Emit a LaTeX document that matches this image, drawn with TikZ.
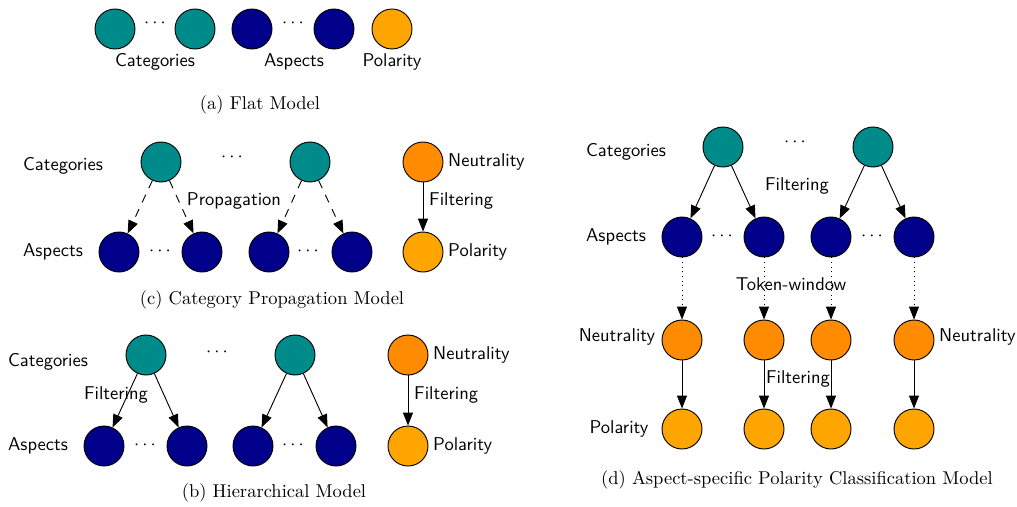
\documentclass[tikz,border=0pt]{standalone}
\usepackage{tikz}
\usetikzlibrary{shapes, positioning, arrows.meta, calc}

\definecolor{catcol}{RGB}{0,139,139}
\definecolor{aspcol}{RGB}{0,0,139}
\definecolor{neucol}{RGB}{255,140,0}
\definecolor{polcol}{RGB}{255,165,0}

\begin{document}
\begin{tikzpicture}[x=0.54pt, y=-0.54pt,
  >={Triangle[length=7pt,width=5.4pt]},
  unit/.style={draw, circle, line width=0.5pt, minimum size=21.6pt, inner sep=0pt},
  cat/.style={unit, fill=catcol},
  asp/.style={unit, fill=aspcol},
  neu/.style={unit, fill=neucol},
  pol/.style={unit, fill=polcol},
  lbl/.style={font=\sffamily, inner sep=1pt},
  subcap/.style={font=\rmfamily},
  edge/.style={->, line width=0.5pt},
  prop/.style={edge, dash pattern=on 4.5pt off 4pt},
  win/.style={edge, dotted}]
\useasboundingbox (0,0) rectangle (1017,506);

% (a) flat
\node[cat] (a1) at (115,29) {};
\node[cat] (a2) at (195,29) {};
\node[asp] (a3) at (252,29) {};
\node[asp] (a4) at (334,29) {};
\node[pol] (a5) at (392,29) {};
\node (ad1) at (155,23) {$\cdots$};
\node (ad2) at (293,23) {$\cdots$};
\node[lbl] (aL1) at (155,62) {Categories};
\node[lbl] (aL2) at (294,62) {Aspects};
\node[lbl] (aL3) at (392,62) {Polarity};
\node[subcap] (aC) at (260,105) {(a) Flat Model};

% (c) category propagation
\node[cat] (c1) at (161,162) {};
\node[cat] (c2) at (310,162) {};
\node[neu] (cn) at (423,162) {};
\node[asp] (ca1) at (119,252) {};
\node[asp] (ca2) at (202,252) {};
\node[asp] (ca3) at (269,252) {};
\node[asp] (ca4) at (352,252) {};
\node[pol] (cp) at (423,252) {};
\node (cd1) at (232,157) {$\cdots$};
\node (cd2) at (160,251) {$\cdots$};
\node (cd3) at (308,251) {$\cdots$};
\node[lbl] (cL1) at (63,166) {Categories};
\node[lbl] (cL2) at (53,252) {Aspects};
\node[lbl, anchor=west] (cL3) at (446,162) {Neutrality};
\node[lbl, anchor=west] (cL4) at (446,252) {Polarity};
\node[lbl] (cE1) at (234,201) {Propagation};
\node[lbl, anchor=west] (cE2) at (427,201) {Filtering};
\draw[prop] (c1) -- (ca1);
\draw[prop] (c1) -- (ca2);
\draw[prop] (c2) -- (ca3);
\draw[prop] (c2) -- (ca4);
\draw[edge] (cn) -- (cp);
\node[subcap] (cC) at (272,300) {(c) Category Propagation Model};

% (b) hierarchical
\node[cat] (b1) at (146,355) {};
\node[cat] (b2) at (295,355) {};
\node[neu] (bn) at (408,355) {};
\node[asp] (ba1) at (104,446) {};
\node[asp] (ba2) at (187,446) {};
\node[asp] (ba3) at (253,446) {};
\node[asp] (ba4) at (336,446) {};
\node[pol] (bp) at (408,446) {};
\node (bd1) at (217,352) {$\cdots$};
\node (bd2) at (145,445) {$\cdots$};
\node (bd3) at (293,445) {$\cdots$};
\node[lbl] (bL1) at (48,362) {Categories};
\node[lbl] (bL2) at (38,446) {Aspects};
\node[lbl, anchor=west] (bL3) at (431,355) {Neutrality};
\node[lbl, anchor=west] (bL4) at (431,446) {Polarity};
\node[lbl] (bE1) at (116,395) {Filtering};
\node[lbl, anchor=west] (bE2) at (412,395) {Filtering};
\draw[edge] (b1) -- (ba1);
\draw[edge] (b1) -- (ba2);
\draw[edge] (b2) -- (ba3);
\draw[edge] (b2) -- (ba4);
\draw[edge] (bn) -- (bp);
\node[subcap] (bC) at (274,493) {(b) Hierarchical Model};

% (d) aspect-specific polarity
\node[cat] (d1) at (723,147) {};
\node[cat] (d2) at (873,147) {};
\node[asp] (da1) at (682,237) {};
\node[asp] (da2) at (764,237) {};
\node[asp] (da3) at (831,237) {};
\node[asp] (da4) at (914,237) {};
\node[neu] (dn1) at (682,340) {};
\node[neu] (dn2) at (764,340) {};
\node[neu] (dn3) at (831,340) {};
\node[neu] (dn4) at (914,340) {};
\node[pol] (dp1) at (682,429) {};
\node[pol] (dp2) at (764,429) {};
\node[pol] (dp3) at (831,429) {};
\node[pol] (dp4) at (914,429) {};
\node (dd1) at (795,142) {$\cdots$};
\node (dd2) at (722,236) {$\cdots$};
\node (dd3) at (872,236) {$\cdots$};
\node[lbl] (dL1) at (626,152) {Categories};
\node[lbl] (dL2) at (616,237) {Aspects};
\node[lbl] (dL3) at (617,337) {Neutrality};
\node[lbl, anchor=west] (dL4) at (937,337) {Neutrality};
\node[lbl] (dL5) at (619,429) {Polarity};
\node[lbl] (dE1) at (797,186) {Filtering};
\node[lbl] (dE2) at (791,284) {Token-window};
\node[lbl] (dE3) at (798,379) {Filtering};
\draw[edge] (d1) -- (da1);
\draw[edge] (d1) -- (da2);
\draw[edge] (d2) -- (da3);
\draw[edge] (d2) -- (da4);
\draw[win] (da1) -- (dn1);
\draw[win] (da2) -- (dn2);
\draw[win] (da3) -- (dn3);
\draw[win] (da4) -- (dn4);
\draw[edge] (dn1) -- (dp1);
\draw[edge] (dn2) -- (dp2);
\draw[edge] (dn3) -- (dp3);
\draw[edge] (dn4) -- (dp4);
\node[subcap] (dC) at (797,480) {(d) Aspect-specific Polarity Classification Model};
\end{tikzpicture}
\end{document}
